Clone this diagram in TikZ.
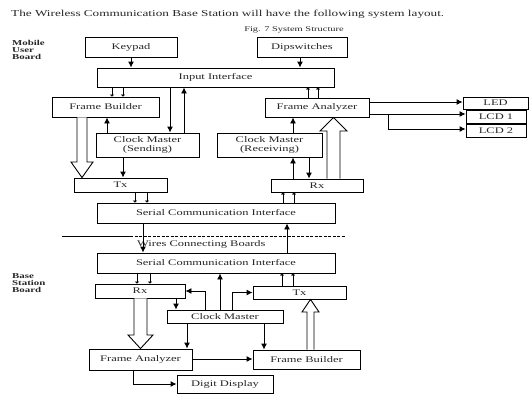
\documentclass[tikz,border=0pt]{standalone}
\usepackage{fontspec}
\setmainfont{Liberation Serif}[FakeStretch=1.45]
\usetikzlibrary{arrows.meta,calc}
\begin{document}
\begin{tikzpicture}[x=1pt,y=-1pt,
  box/.style={draw, line width=0.9pt, inner sep=0pt, font=\fontsize{8.6}{8.4}\selectfont, text=black!85, align=center},
  arr/.style={-{Latex[length=6pt,width=6pt]}, line width=0.9pt},
  bus/.style={-{Latex[length=2pt,width=5pt]}, line width=0.8pt},
  hollow/.style={line width=0.9pt, fill=white},
  lbl/.style={inner sep=0pt, text=black!85}]
\useasboundingbox (0,0) rectangle (529,396);
% texts
\node[lbl, anchor=west, font=\fontsize{9.1}{10}\selectfont] (title) at (11,14) {The Wireless Communication Base Station will have the following system layout.};
\node[lbl, font=\fontsize{7.2}{7}\selectfont] (cap) at (294,30) {Fig. 7 System Structure};
\node[lbl, anchor=north west, align=left, font=\bfseries\fontsize{7.5}{7}\selectfont] (mub) at (12,40) {Mobile\\User\\Board};
\node[lbl, anchor=north west, align=left, font=\bfseries\fontsize{7.5}{7}\selectfont] (bsb) at (12,273) {Base\\Station\\Board};
% upper boxes
\node[box, minimum width=92pt, minimum height=20pt] (keypad) at (131,47) {Keypad};
\node[box, minimum width=90pt, minimum height=20pt] (dip) at (302,47) {Dipswitches};
\node[box, minimum width=237pt, minimum height=19pt] (input) at (215.5,77.5) {Input Interface};
\node[box, minimum width=107pt, minimum height=20pt] (fb) at (105.5,107) {Frame Builder};
\node[box, minimum width=104pt, minimum height=19pt] (fa) at (317,107.5) {Frame Analyzer};
\node[box, minimum width=65pt, minimum height=12pt] (led) at (495.5,103) {LED};
\node[box, minimum width=60pt, minimum height=13pt] (lcd1) at (496,116.5) {LCD 1};
\node[box, minimum width=60pt, minimum height=13pt] (lcd2) at (496,130.5) {LCD 2};
\node[box, minimum width=103pt, minimum height=24pt] (cms) at (147.5,145) {Clock Master\\(Sending)};
\node[box, minimum width=105pt, minimum height=24pt] (cmr) at (269.5,145) {Clock Master\\(Receiving)};
\node[box, minimum width=93pt, minimum height=14pt] (txu) at (120.5,185) {Tx};
\node[box, minimum width=92pt, minimum height=13pt] (rxu) at (317,185.5) {Rx};
\node[box, minimum width=238pt, minimum height=20pt] (scu) at (216,213) {Serial Communication Interface};
% separator
\coordinate (d0) at (62,236);
\coordinate (d1) at (130,236);
\coordinate (d2) at (345,236);
\draw[line width=0.8pt] (d0) -- (d1);
\draw[line width=0.8pt, dash pattern=on 3pt off 1.5pt] (d1) -- (d2);
\node[lbl, anchor=west, font=\fontsize{8.6}{8}\selectfont] (wires) at (137,244) {Wires Connecting Boards};
% lower boxes
\node[box, minimum width=238pt, minimum height=20pt] (scl) at (216,263) {Serial Communication Interface};
\node[box, minimum width=90pt, minimum height=14pt] (rxl) at (140,291) {Rx};
\node[box, minimum width=93pt, minimum height=13pt] (txl) at (299.5,292.5) {Tx};
\node[box, minimum width=116pt, minimum height=13pt] (cml) at (225,316.5) {Clock Master};
\node[box, minimum width=103pt, minimum height=21pt] (fal) at (140.5,359.5) {Frame Analyzer};
\node[box, minimum width=107pt, minimum height=19pt] (fbl) at (306.5,359.5) {Frame Builder};
\node[box, minimum width=96pt, minimum height=18pt] (dd) at (225,384) {Digit Display};
% upper connectors
\draw[arr] (keypad.south) -- (input.north -| keypad.south);
\draw[arr] (dip.south -| 300,0) -- (input.north -| 300,0);
\draw[bus] (input.south -| 112,0) -- (fb.north -| 112,0);
\draw[bus] (input.south -| 123,0) -- (fb.north -| 123,0);
\draw[bus] (fa.north -| 308,0) -- (input.south -| 308,0);
\draw[bus] (fa.north -| 318,0) -- (input.south -| 318,0);
\draw[arr] (input.south -| 170,0) -- (cms.north -| 170,0);
\draw[arr] (cms.north -| 184,0) -- (input.south -| 184,0);
\draw[arr] (cms.north -| 107,0) -- (fb.south -| 107,0);
\draw[arr] (cms.south -| 123,0) -- (txu.north -| 123,0);
\draw[hollow] (fb.south -| 77,0) -- (77,162) -- (71,162) -- (txu.north -| 82,0) -- (93,162) -- (87,162) -- (fb.south -| 87,0);
\draw[bus] (txu.south -| 135,0) -- (scu.north -| 135,0);
\draw[bus] (txu.south -| 147,0) -- (scu.north -| 147,0);
\draw[bus] (scu.north -| 283,0) -- (rxu.south -| 283,0);
\draw[bus] (scu.north -| 294,0) -- (rxu.south -| 294,0);
\draw[arr] (cmr.north -| 293,0) -- (fa.south -| 293,0);
\draw[arr] (rxu.north -| 293,0) -- (cmr.south -| 293,0);
\draw[arr] (cmr.south -| 309,0) -- (rxu.north -| 309,0);
\draw[hollow] (rxu.north -| 327,0) -- (327,131) -- (320,131) -- (fa.south -| 333.5,0) -- (347,131) -- (340,131) -- (rxu.north -| 340,0);
\draw[arr] (fa.east |- 0,102) -- (led.west |- 0,102);
\coordinate (br) at (388,114);
\draw[arr] (fa.east |- br) -- (lcd1.west |- br);
\draw[arr] (br) |- (lcd2.west |- 0,129);
\draw[arr] (scu.south -| 143,0) -- (scl.north -| 143,0);
\draw[arr] (scl.north -| 287,0) -- (scu.south -| 287,0);
% lower connectors
\draw[bus] (scl.south -| 137,0) -- (rxl.north -| 137,0);
\draw[bus] (scl.south -| 150,0) -- (rxl.north -| 150,0);
\draw[bus] (txl.north -| 282,0) -- (scl.south -| 282,0);
\draw[bus] (txl.north -| 293,0) -- (scl.south -| 293,0);
\draw[arr] (cml.north -| 205,0) |- (rxl.east);
\draw[arr] (rxl.south -| 176,0) -- (cml.north -| 176,0);
\draw[arr] (cml.north -| 220,0) -- (scl.south -| 220,0);
\draw[arr] (cml.north -| 232,0) |- (txl.west);
\draw[hollow] (rxl.south -| 134,0) -- (134,335) -- (128,335) -- (fal.north -| 140.5,0) -- (153,335) -- (147,335) -- (rxl.south -| 147,0);
\draw[hollow] (fbl.north -| 307,0) -- (307,312) -- (302,312) -- (txl.south -| 310.5,0) -- (319,312) -- (314,312) -- (fbl.north -| 314,0);
\draw[arr] (cml.south -| 187,0) -- (fal.north -| 187,0);
\draw[arr] (cml.south -| 264,0) -- (fbl.north -| 264,0);
\draw[arr] (fal.east |- 0,359) -- (fbl.west |- 0,359);
\draw[arr] (fal.south -| 133,0) |- (dd.west);
\end{tikzpicture}
\end{document}
